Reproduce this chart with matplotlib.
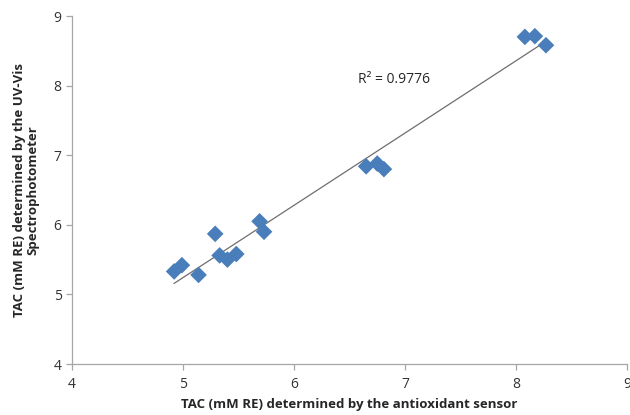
import numpy as np
import matplotlib
matplotlib.use("Agg")
import matplotlib.pyplot as plt

# TAC values
sensor = [4.92, 4.99, 5.14, 5.29, 5.33, 5.40, 5.48, 5.69, 5.73,
          6.65, 6.75, 6.81, 8.08, 8.17, 8.27]
uvvis = [5.33, 5.42, 5.28, 5.87, 5.56, 5.50, 5.58, 6.05, 5.90,
         6.84, 6.88, 6.80, 8.70, 8.71, 8.58]
r2_text = "R² = 0.9776"

plt.rcParams['font.family'] = ['Open Sans', 'DejaVu Sans']

fig = plt.figure(figsize=(6.3, 4.15), dpi=100)
ax = fig.add_axes([72/630, 1 - 364/415, (627 - 72)/630, (364 - 16)/415])

x = np.array(sensor)
y = np.array(uvvis)
m, b = np.polyfit(x, y, 1)
xs = np.array([x.min(), x.max()])
ax.plot(xs, m * xs + b, color='#6e6e6e', lw=0.9, zorder=2)
ax.scatter(x, y, marker='D', s=72, color='#4a7ebb', edgecolors='none', zorder=3)

ax.text(6.58, 8.09, r2_text, fontsize=10, va='center', ha='left', color='#262626')

ax.set_xlim(4, 9)
ax.set_ylim(4, 9)
ax.set_xticks(range(4, 10))
ax.set_yticks(range(4, 10))
for s in ['top', 'right']:
    ax.spines[s].set_visible(False)
for s in ['left', 'bottom']:
    ax.spines[s].set_color('#a6a6a6')
    ax.spines[s].set_linewidth(0.9)
ax.tick_params(axis='both', colors='#a6a6a6', labelcolor='#333333',
               labelsize=10, length=4, width=0.9)
ax.tick_params(axis='x', pad=5)

ax.set_xlabel('TAC (mM RE) determined by the antioxidant sensor',
              fontsize=9.5, fontweight='bold', color='#262626', labelpad=5)
ax.set_ylabel('TAC (mM RE) determined by the UV-Vis\nSpectrophotometer',
              fontsize=9.5, fontweight='bold', color='#262626',
              labelpad=10, linespacing=1.1)

fig.savefig('out.png', dpi=100)
